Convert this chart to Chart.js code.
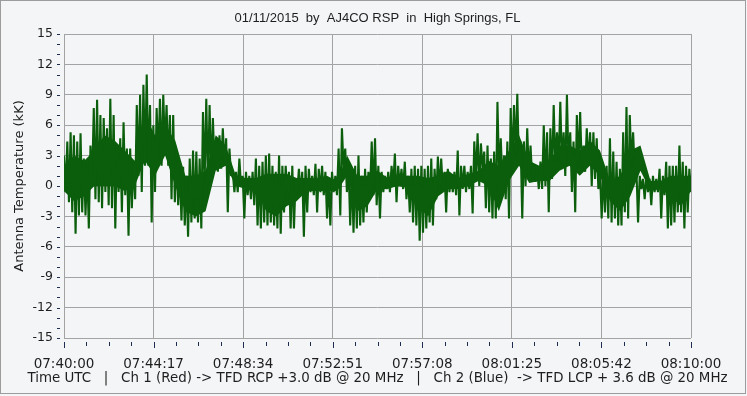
<!DOCTYPE html>
<html>
<head>
<meta charset="utf-8">
<script src="https://cdn.jsdelivr.net/npm/chart.js@4/dist/chart.umd.min.js"></script>
<style>
  html, body { margin: 0; padding: 0; background: #ffffff; }
  canvas { display: block; }
</style>
</head>
<body>
<canvas id="grafico" width="747" height="396"></canvas>
<script>
// -------------------- Dados --------------------
const titulo = "01/11/2015  by  AJ4CO RSP  in  High Springs, FL";
const tituloY = "Antenna Temperature (kK)";
const tituloX = "Time UTC   |   Ch 1 (Red) -> TFD RCP +3.0 dB @ 20 MHz   |   Ch 2 (Blue)  -> TFD LCP + 3.6 dB @ 20 MHz";

// horarios dos ticks (07:40:00 ate 08:10:00 = 1800 s)
const rotulosTempo = ["07:40:00", "07:44:17", "07:48:34", "07:52:51", "07:57:08", "08:01:25", "08:05:42", "08:10:00"];
const duracaoSeg = 1800;

// picos (kK), ~3.3 px por coluna
const picos = [
  3, 4.4, 5.3, 5, 4.4, 5.2, 2.7, 2, 4, 7.7, 8.5, 7, 6.7, 5.7, 8.6, 7, 4, 4.7, 6.3, 3.7, 3.7, 2.4, 8, 9, 10, 11, 8, 6, 7.7, 8.6,
  9, 8, 7, 7, 3.4, 1.7, 1.9, 1, 2.7, 3.5, 3.4, 2.7, 7.3, 8.6, 8, 6.7, 4.7, 5, 5.7, 4.7, 3.7, 1.4, 1.4, 2.7, 1, 1.4, 1, 1.4, 2.7, 2, 2.4, 3,
  3.2, 2, 1.4, 3, 2, 2, 1.4, 2, 0.7, 1.7, 1.4, 2, 1.7, 1, 2.2, 1.7, 2, 1.4, 0.7, 1.4, 1, 3.7, 5.7, 3.7, 2, 1.4, 2, 3, 1, 1.7, 1.4, 4.4,
  4.7, 2, 1.4, 1, 1.4, 2, 3.2, 2, 1.7, 2.4, 1, 1.7, 2, 1.7, 2, 1.7, 2, 2.7, 1.7, 2.9, 2.7, 1.4, 1.7, 1, 1.4, 3.5, 2, 2, 1.4, 2, 4.4, 5.2,
  4.2, 3.4, 4, 2.7, 3.4, 8.3, 4.7, 3, 4.4, 7.7, 8, 9.1, 4.4, 4.4, 5.7, 4, 2, 1.7, 2.4, 6, 5.3, 5.7, 8, 5.3, 8.3, 5.3, 9, 5.3, 4.4, 7, 7.3, 4,
  5.7, 5.3, 5.3, 4.7, 1.4, 1.4, 2, 4.7, 3.4, 2.4, 1.7, 5.3, 7.8, 7, 5.3, 1.7, 1, 0.7, 1, 0.7, 1, 0.7, 1.7, 1, 2.4, 2, 2, 2, 4, 2.4, 2, 1.7
];

// vales (kK), mesmas colunas
const vales = [
  -0.6, -1.6, -2.6, -4.7, -2.9, -2.6, -2.9, -4.2, 0.4, -1.3, -1.6, -2.2, -0.6, -1.9, -2.2, -4.2, -0.6, -2.6, -0.9, -4.9, -2.2, -1.3, 1, -0.6, 2, 2, -3.6, -0.6, 2.7, 2,
  3.7, 2, -1.3, -1.6, -1.9, -3.4, -3.9, -5, -3.6, -3.2, -3.6, -4.2, 0.4, 0.1, 1, 1.7, 1.4, 1.7, 2, -2.6, 1, -0.6, -0.6, 0, -3.2, -0.9, -1.3, -1.9, -3.9, -4.2, -3.6, -3.9,
  -3.6, -3.9, -4.2, -4.7, -2.6, -0.9, -4.2, -4.2, -0.6, -0.9, -5, -2.6, -0.6, -0.9, -2.6, -0.6, -0.9, -3.2, -3.9, -0.6, -0.9, -2.9, 1.7, -0.6, -3.9, -4.6, -4.2, -3.9, -3.6, -2.6, -0.6, -0.9,
  -1.9, -3.2, -0.6, -0.3, -0.6, 0, -1.6, 0, -0.3, -1.3, -2.6, -3.6, -3.9, -5.4, -4.6, -4.2, -3.6, -3.9, -1.3, -0.6, -0.3, -2.6, -0.6, -0.6, -0.9, -2.9, -0.3, -0.6, -0.3, -2.7, 0.7, 0,
  1.7, -2.2, -2.6, -3.2, -3.2, 1, 0.4, -1.3, -3.2, 2, 3, 2, -3.2, 0, 1, 0.7, 0.4, -0.3, -0.3, 0, -2.6, 0.7, 2, 2.4, 2, 1, 2, -0.6, -2.6, 2, 1.7, 1.4,
  2, 0, 0.7, -0.3, -3.2, -2.6, -3.2, -3.6, -3.2, -3.9, -3.9, -2.6, -3.2, 2, 1.4, -3.6, -0.3, -1.3, -0.6, -1.9, -0.6, -0.6, -3.2, -0.9, -4.2, -3.9, -3.6, -2.6, -2.6, -4.2, -2.6, -0.6
];

// miolo denso do traco (kK), ~10 px por coluna
const nucleoSup = [
  2, 3, 2.5, 3.5, 5, 4.5, 3.5, 2.5, 7, 5, 6, 4.5, 1, 1, 1.5, 5, 4, 1, 0.8, 0.8, 1.2,
  1.2, 1.2, 0.8, 0.8, 0.8, 1, 0.5, 3, 1, 1, 1.5, 0.8, 1, 1, 1, 0.8, 1, 1.5, 0.8, 1.2, 1.5,
  2.5, 2, 3.5, 5, 2.5, 2, 2.5, 4, 4, 3.5, 4.5, 3.5, 0.5, 1, 3.5, 4, 0.5, 0.5, 1, 1, 1
];
const nucleoInf = [
  -0.5, -1.5, -1, 0, 0, 0, -0.5, 0, 2.5, 1, 3, 0, -2.5, -3, -2.5, 1.5, 2, 0, -0.3, -0.5, -2.5,
  -3, -2, -1.5, -0.5, -0.5, -0.5, -0.5, 1, -2.5, -2, -0.3, -0.3, 0, -0.2, -2, -3, -1, -0.3, -0.3, 0, 0.5,
  0, -2.5, 0.5, 2, 0.3, 0.5, 0.5, 1.5, 2, 1, 2, 1, -1.5, -2.5, -1, 1.5, -0.5, -0.3, -1, -2, -0.5
];

// -------------------- Series --------------------
const nPontos = picos.length * 2;
const tempoDe = (k) => k * duracaoSeg / (nPontos - 1);
const tempoNucleo = (j) => j * duracaoSeg / (nucleoSup.length - 1);

// alterna pico/vale para formar o traco do receptor
const serie = [];
picos.forEach((p, i) => {
  serie.push({ x: tempoDe(2 * i), y: p }, { x: tempoDe(2 * i + 1), y: vales[i] });
});
const mioloSup = nucleoSup.map((v, j) => ({ x: tempoNucleo(j), y: v }));
const mioloInf = nucleoInf.map((v, j) => ({ x: tempoNucleo(j), y: v }));

// -------------------- Plugins --------------------
const fundo = {
  id: "fundo",
  beforeDraw(chart) {
    const ctx = chart.ctx;
    ctx.save();
    ctx.fillStyle = "#f4f5f7";
    ctx.fillRect(0, 0, chart.width, chart.height);
    ctx.strokeStyle = "#9c9c9c";
    ctx.lineWidth = 1;
    ctx.strokeRect(0.5, 0.5, chart.width - 2, chart.height - 3);
    ctx.restore();
  }
};

// titulo e legenda de baixo, centrados na area do grafico
const textos = {
  id: "textos",
  afterDraw(chart) {
    const ctx = chart.ctx;
    const area = chart.chartArea;
    const cx = (area.left + area.right) / 2;
    ctx.save();
    ctx.fillStyle = "#1e1e1e";
    ctx.textAlign = "center";
    ctx.textBaseline = "middle";
    ctx.font = "13px 'Liberation Sans'";
    ctx.fillText(titulo, cx, 18);
    ctx.font = "13.4px 'DejaVu Sans'";
    ctx.fillText(tituloX, cx, 379);
    ctx.restore();
  }
};

// marcas menores dos eixos (o Chart.js nao tem minor ticks)
const marcas = {
  id: "marcas",
  afterDraw(chart) {
    const ctx = chart.ctx;
    const area = chart.chartArea;
    const sx = chart.scales.x;
    const sy = chart.scales.y;
    ctx.save();
    ctx.strokeStyle = "#1f2d52";
    ctx.lineWidth = 1;
    ctx.beginPath();
    for (let k = 0; k <= 28; k++) {
      const px = Math.round(sx.getPixelForValue(k * duracaoSeg / 28)) + 0.5;
      const maior = k % 4 === 0;
      ctx.moveTo(px, area.bottom + 4);
      ctx.lineTo(px, area.bottom + (maior ? 10 : 8));
    }
    for (let v = -15; v <= 15; v++) {
      const py = Math.round(sy.getPixelForValue(v)) + 0.5;
      ctx.moveTo(area.left - 7, py);
      ctx.lineTo(area.left - 4, py);
    }
    ctx.stroke();
    ctx.restore();
  }
};

// -------------------- Grafico --------------------
new Chart(document.getElementById("grafico"), {
  type: "line",
  data: {
    datasets: [
      {
        data: serie,
        borderColor: "#0b5e0b",
        borderWidth: 2.1,
        borderJoinStyle: "bevel",
        pointRadius: 0,
        tension: 0,
        fill: false
      },
      {
        data: mioloSup,
        borderWidth: 0,
        pointRadius: 0,
        tension: 0,
        backgroundColor: "#0b5e0b",
        fill: "+1"
      },
      {
        data: mioloInf,
        borderWidth: 0,
        pointRadius: 0,
        tension: 0,
        fill: false
      }
    ]
  },
  options: {
    responsive: false,
    animation: false,
    events: [],
    layout: { padding: { top: 34, right: 56, bottom: 0, left: 0 } },
    plugins: {
      legend: { display: false },
      tooltip: { enabled: false },
      title: { display: false }
    },
    scales: {
      x: {
        type: "linear",
        min: 0,
        max: duracaoSeg,
        afterBuildTicks: (s) => {
          s.ticks = rotulosTempo.map((r, i) => ({ value: i * duracaoSeg / (rotulosTempo.length - 1) }));
        },
        afterFit: (s) => { s.height = 58; },
        grid: { color: "#a3a3a3", drawTicks: false },
        border: { display: false },
        ticks: {
          autoSkip: false,
          maxRotation: 0,
          padding: 18,
          color: "#1e1e1e",
          font: { family: "DejaVu Sans", size: 13.5 },
          callback: (v, i) => rotulosTempo[i]
        }
      },
      y: {
        min: -15,
        max: 15,
        afterFit: (s) => { s.width = 64; },
        grid: { color: "#a3a3a3", drawTicks: false },
        border: { display: false },
        ticks: {
          stepSize: 3,
          padding: 11,
          color: "#1e1e1e",
          font: { family: "DejaVu Sans", size: 12.5 }
        },
        title: {
          display: true,
          text: tituloY,
          color: "#1e1e1e",
          font: { family: "DejaVu Sans", size: 13 },
          padding: { top: 12, bottom: 0 }
        }
      }
    }
  },
  plugins: [fundo, textos, marcas]
});
</script>
</body>
</html>
